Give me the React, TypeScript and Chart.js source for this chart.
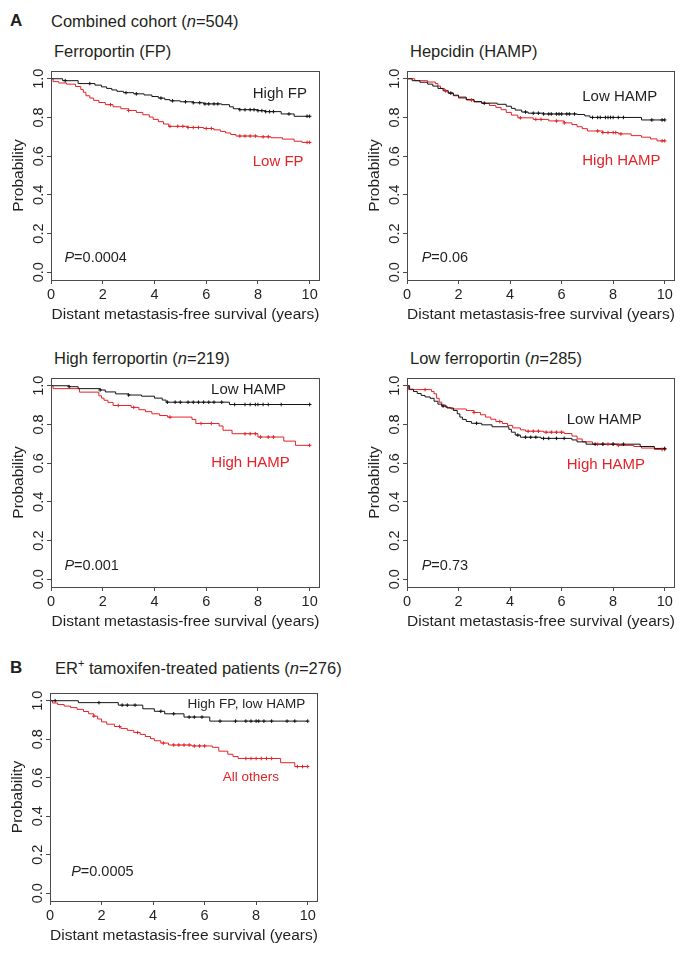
import React, { useEffect, useRef } from "react";
import { Chart, registerables } from "chart.js";
Chart.register(...registerables);

const FONT = '"Liberation Sans", Arial, Helvetica, sans-serif';
const TEXT = "#231f20";
const RED = "#e42228";
const BLK = "#141414";
const AXIS = "#4a4a4a";

const xTickValues = [0, 2, 4, 6, 8, 10];
const yTickValues = [0, 0.2, 0.4, 0.6, 0.8, 1.0];
const xAxisTitle = "Distant metastasis-free survival (years)";
const yAxisTitle = "Probability";

// ---- Panel 1: Ferroportin (FP) ----
const fpHighTimes = [0, 0.45, 1.05, 1.7, 1.95, 2.15, 2.35, 2.55, 2.8, 3.2, 3.6, 3.9, 4.15, 4.4, 4.6, 5.0, 5.5, 5.9, 6.6, 6.9, 7.05, 7.3, 8.0, 8.3, 8.9, 9.4, 10];
const fpHighSurv = [1.0, 0.99, 0.975, 0.967, 0.958, 0.95, 0.942, 0.935, 0.928, 0.922, 0.916, 0.908, 0.9, 0.892, 0.886, 0.881, 0.876, 0.87, 0.866, 0.855, 0.845, 0.84, 0.835, 0.83, 0.818, 0.806, 0.806];
const fpHighCensor = [0.55, 1.5, 2.9, 3.3, 4.25, 4.7, 5.2, 5.5, 5.75, 5.95, 6.1, 6.3, 6.45, 7.3, 7.5, 7.7, 7.85, 8.0, 8.15, 8.3, 8.45, 8.6, 9.2, 9.9, 10.0];
const fpLowTimes = [0, 0.08, 0.3, 0.6, 0.95, 1.15, 1.25, 1.35, 1.5, 1.65, 1.85, 2.1, 2.4, 2.7, 3.0, 3.3, 3.55, 3.8, 3.95, 4.15, 4.35, 4.55, 5.3, 5.9, 6.3, 6.55, 6.75, 6.95, 7.15, 8.0, 8.5, 8.95, 9.4, 9.7, 10];
const fpLowSurv = [1.0, 0.985, 0.978, 0.972, 0.96, 0.945, 0.93, 0.912, 0.9, 0.888, 0.877, 0.866, 0.855, 0.845, 0.836, 0.826, 0.814, 0.802, 0.79, 0.778, 0.766, 0.754, 0.748, 0.743, 0.736, 0.728, 0.72, 0.712, 0.704, 0.7, 0.695, 0.688, 0.677, 0.671, 0.671];
const fpLowCensor = [2.3, 3.0, 4.6, 4.9, 5.1, 5.3, 5.5, 5.7, 6.0, 6.2, 7.3, 7.5, 7.7, 7.9, 8.2, 8.4, 9.9, 10.0];

// ---- Panel 2: Hepcidin (HAMP) ----
const hampLowTimes = [0, 0.2, 0.5, 0.8, 1.0, 1.2, 1.4, 1.6, 1.8, 2.0, 2.3, 2.6, 2.9, 3.5, 3.85, 4.05, 4.2, 4.45, 4.7, 5.3, 6.6, 6.9, 7.1, 9.1, 10];
const hampLowSurv = [1.0, 0.99, 0.982, 0.972, 0.962, 0.95, 0.938, 0.926, 0.915, 0.905, 0.893, 0.882, 0.874, 0.868, 0.858, 0.847, 0.838, 0.828, 0.822, 0.818, 0.815, 0.808, 0.8, 0.787, 0.787];
const hampLowCensor = [1.7, 3.0, 4.6, 4.9, 5.1, 5.3, 5.5, 5.6, 5.8, 5.9, 6.0, 6.2, 6.3, 6.5, 7.2, 7.4, 7.5, 7.7, 7.8, 7.9, 8.0, 8.2, 8.4, 9.5, 9.9, 10.0];
const hampHighTimes = [0, 0.3, 0.8, 1.1, 1.2, 1.3, 1.45, 1.6, 1.8, 2.0, 2.3, 2.6, 2.9, 3.2, 3.45, 3.65, 3.85, 4.05, 4.3, 4.9, 5.5, 6.1, 6.4, 6.6, 6.8, 7.0, 7.6, 8.2, 8.7, 9.1, 9.45, 9.7, 10];
const hampHighSurv = [1.0, 0.99, 0.983, 0.975, 0.962, 0.95, 0.937, 0.925, 0.912, 0.9, 0.89, 0.88, 0.872, 0.862, 0.852, 0.84, 0.826, 0.812, 0.798, 0.79, 0.782, 0.772, 0.763, 0.752, 0.742, 0.73, 0.722, 0.715, 0.706, 0.698, 0.689, 0.679, 0.679];
const hampHighCensor = [1.5, 2.5, 4.4, 5.0, 5.2, 5.8, 6.1, 7.4, 7.6, 7.8, 8.0, 8.1, 8.3, 9.9, 10.0];

// ---- Panel 3: High ferroportin (n=219) ----
const hiFpLowHampTimes = [0, 0.7, 1.05, 1.9, 2.1, 2.5, 3.0, 3.5, 4.0, 4.3, 4.45, 6.9, 10];
const hiFpLowHampSurv = [1.0, 0.995, 0.985, 0.978, 0.968, 0.958, 0.952, 0.946, 0.936, 0.926, 0.915, 0.903, 0.903];
const hiFpLowHampCensor = [0.7, 1.9, 3.0, 4.5, 4.8, 5.0, 5.3, 5.5, 5.7, 5.9, 6.1, 6.3, 6.6, 7.1, 7.5, 7.7, 7.9, 8.0, 8.2, 8.4, 8.9, 10.0];
const hiFpHighHampTimes = [0, 0.08, 1.1, 1.85, 1.95, 2.05, 2.2, 2.4, 3.1, 3.4, 3.65, 3.9, 4.2, 4.5, 5.45, 5.6, 6.5, 6.65, 7.0, 8.0, 9.0, 9.45, 10];
const hiFpHighHampSurv = [1.0, 0.985, 0.967, 0.948, 0.936, 0.925, 0.914, 0.898, 0.888, 0.876, 0.866, 0.855, 0.846, 0.838, 0.826, 0.805, 0.792, 0.77, 0.752, 0.735, 0.714, 0.692, 0.692];
const hiFpHighHampCensor = [2.6, 3.2, 4.6, 5.8, 6.2, 7.5, 7.7, 7.9, 8.1, 8.4, 8.6, 10.0];

// ---- Panel 4: Low ferroportin (n=285) ----
const loFpLowHampTimes = [0, 0.1, 0.25, 0.4, 0.55, 0.7, 0.9, 1.05, 1.2, 1.35, 1.55, 1.8, 1.95, 2.05, 2.15, 2.3, 2.5, 2.9, 3.3, 3.95, 4.05, 4.2, 4.4, 5.2, 6.4, 6.6, 6.95, 9.05, 9.6, 10];
const loFpLowHampSurv = [1.0, 0.982, 0.97, 0.96, 0.95, 0.942, 0.935, 0.92, 0.905, 0.895, 0.885, 0.872, 0.855, 0.838, 0.826, 0.815, 0.806, 0.798, 0.788, 0.775, 0.76, 0.745, 0.734, 0.728, 0.72, 0.71, 0.698, 0.686, 0.676, 0.676];
const loFpLowHampCensor = [1.4, 2.7, 4.3, 4.6, 4.8, 5.0, 5.3, 5.5, 5.8, 6.1, 7.3, 7.6, 8.0, 8.4, 10.0];
const loFpHighHampTimes = [0, 0.06, 0.95, 1.05, 1.15, 1.25, 1.35, 1.5, 1.7, 2.3, 2.6, 2.85, 3.05, 3.25, 3.45, 3.7, 3.9, 4.1, 4.4, 4.6, 5.3, 6.1, 6.4, 6.6, 6.8, 7.2, 8.2, 8.8, 9.1, 9.6, 10];
const loFpHighHampSurv = [1.0, 0.98, 0.97, 0.958, 0.935, 0.915, 0.9, 0.888, 0.88, 0.872, 0.862, 0.85, 0.838, 0.827, 0.815, 0.805, 0.795, 0.782, 0.772, 0.765, 0.76, 0.753, 0.74, 0.725, 0.71, 0.698, 0.692, 0.686, 0.678, 0.671, 0.671];
const loFpHighHampCensor = [0.7, 2.6, 3.6, 4.7, 4.9, 5.1, 5.4, 5.6, 5.8, 6.0, 7.4, 7.6, 7.8, 8.0, 8.2, 9.9, 10.0];

// ---- Panel 5: ER+ tamoxifen-treated (n=276) ----
const tamHiFpLoHampTimes = [0, 1.1, 2.65, 3.6, 4.05, 4.45, 5.2, 6.2, 10];
const tamHiFpLoHampSurv = [1.0, 0.99, 0.977, 0.958, 0.945, 0.932, 0.915, 0.894, 0.894];
const tamHiFpLoHampCensor = [0.2, 1.9, 2.8, 3.0, 3.3, 4.3, 4.8, 5.4, 5.6, 5.9, 6.6, 7.2, 7.6, 7.8, 8.0, 8.1, 8.3, 8.6, 9.2, 9.5, 10.0];
const tamOthersTimes = [0, 0.1, 0.3, 0.55, 0.8, 1.05, 1.3, 1.5, 1.7, 1.85, 2.0, 2.2, 2.5, 2.75, 3.0, 3.25, 3.5, 3.7, 3.9, 4.05, 4.3, 4.6, 5.5, 6.3, 6.55, 6.9, 7.1, 7.3, 8.95, 9.5, 10];
const tamOthersSurv = [1.0, 0.988, 0.98, 0.972, 0.964, 0.955, 0.944, 0.932, 0.92, 0.905, 0.89, 0.878, 0.866, 0.856, 0.846, 0.835, 0.825, 0.814, 0.803, 0.792, 0.78, 0.77, 0.765, 0.758, 0.738, 0.722, 0.71, 0.7, 0.678, 0.658, 0.658];
const tamOthersCensor = [1.7, 2.7, 3.4, 4.4, 4.8, 5.0, 5.2, 5.4, 5.6, 5.8, 6.0, 7.6, 7.8, 8.0, 8.2, 8.4, 8.6, 9.6, 9.8, 10.0];

type Curve = { times: number[]; surv: number[]; censor: number[]; color: string };
type Note = { text: string; x: number; y: number; color: string; size: number };
type PanelSpec = {
  boxLeft: number; boxTop: number; boxW: number; boxH: number;
  curves: Curve[]; notes: Note[]; pValue: string; pX: number; pY: number; pSize: number;
};

function survAt(times: number[], surv: number[], t: number) {
  let v = surv[0];
  for (let i = 0; i < times.length; i++) if (times[i] <= t) v = surv[i];
  return v;
}

const panels: PanelSpec[] = [
  {
    boxLeft: 51, boxTop: 71, boxW: 269, boxH: 209,
    curves: [
      { times: fpHighTimes, surv: fpHighSurv, censor: fpHighCensor, color: BLK },
      { times: fpLowTimes, surv: fpLowSurv, censor: fpLowCensor, color: RED },
    ],
    notes: [
      { text: "High FP", x: 7.8, y: 0.923, color: TEXT, size: 15 },
      { text: "Low FP", x: 7.8, y: 0.571, color: RED, size: 15 },
    ],
    pValue: "=0.0004", pX: 0.52, pY: 0.076, pSize: 14.5,
  },
  {
    boxLeft: 407, boxTop: 71, boxW: 268, boxH: 209,
    curves: [
      { times: hampLowTimes, surv: hampLowSurv, censor: hampLowCensor, color: BLK },
      { times: hampHighTimes, surv: hampHighSurv, censor: hampHighCensor, color: RED },
    ],
    notes: [
      { text: "Low HAMP", x: 6.8, y: 0.907, color: TEXT, size: 15 },
      { text: "High HAMP", x: 6.8, y: 0.577, color: RED, size: 15 },
    ],
    pValue: "=0.06", pX: 0.57, pY: 0.076, pSize: 14.5,
  },
  {
    boxLeft: 51, boxTop: 378, boxW: 269, boxH: 209,
    curves: [
      { times: hiFpLowHampTimes, surv: hiFpLowHampSurv, censor: hiFpLowHampCensor, color: BLK },
      { times: hiFpHighHampTimes, surv: hiFpHighHampSurv, censor: hiFpHighHampCensor, color: RED },
    ],
    notes: [
      { text: "Low HAMP", x: 6.19, y: 0.978, color: TEXT, size: 15 },
      { text: "High HAMP", x: 6.2, y: 0.599, color: RED, size: 15 },
    ],
    pValue: "=0.001", pX: 0.52, pY: 0.069, pSize: 14.5,
  },
  {
    boxLeft: 407, boxTop: 378, boxW: 268, boxH: 209,
    curves: [
      { times: loFpLowHampTimes, surv: loFpLowHampSurv, censor: loFpLowHampCensor, color: BLK },
      { times: loFpHighHampTimes, surv: loFpHighHampSurv, censor: loFpHighHampCensor, color: RED },
    ],
    notes: [
      { text: "Low HAMP", x: 6.2, y: 0.823, color: TEXT, size: 15 },
      { text: "High HAMP", x: 6.2, y: 0.593, color: RED, size: 15 },
    ],
    pValue: "=0.73", pX: 0.57, pY: 0.069, pSize: 14.5,
  },
  {
    boxLeft: 50, boxTop: 693, boxW: 268, boxH: 208,
    curves: [
      { times: tamHiFpLoHampTimes, surv: tamHiFpLoHampSurv, censor: tamHiFpLoHampCensor, color: BLK },
      { times: tamOthersTimes, surv: tamOthersSurv, censor: tamOthersCensor, color: RED },
    ],
    notes: [
      { text: "High FP, low HAMP", x: 5.34, y: 0.984, color: TEXT, size: 13.5 },
      { text: "All others", x: 6.7, y: 0.6, color: RED, size: 13.5 },
    ],
    pValue: "=0.0005", pX: 0.82, pY: 0.112, pSize: 14.5,
  },
];

const Y_AXIS_W = 51;
const PAD_TOP = 10;
const PAD_RIGHT = 14;
const X_AXIS_H = 45;

function KMPanel({ spec }: { spec: PanelSpec }) {
  const ref = useRef<HTMLCanvasElement | null>(null);
  const width = Y_AXIS_W + spec.boxW + PAD_RIGHT;
  const height = PAD_TOP + spec.boxH + X_AXIS_H;

  useEffect(() => {
    if (!ref.current) return;
    const datasets: any[] = [];
    spec.curves.forEach((c) => {
      datasets.push({
        data: c.times.map((t, i) => ({ x: t, y: c.surv[i] })),
        borderColor: c.color,
        borderWidth: 1,
        stepped: "before",
        pointRadius: 0,
        fill: false,
        order: 2,
      });
      datasets.push({
        data: c.censor.map((t) => ({ x: t, y: survAt(c.times, c.surv, t) })),
        showLine: false,
        pointStyle: "cross",
        pointRadius: 1.8,
        pointBorderWidth: 1,
        pointBorderColor: c.color,
        pointBackgroundColor: c.color,
        borderColor: c.color,
        order: 1,
      });
    });

    const deco = {
      id: "deco",
      afterDatasetsDraw(chart: any) {
        const { ctx, chartArea } = chart;
        const xs = chart.scales.x;
        const ys = chart.scales.y;
        ctx.save();
        // box
        ctx.strokeStyle = AXIS;
        ctx.lineWidth = 1;
        ctx.strokeRect(
          Math.round(chartArea.left) + 0.5,
          Math.round(chartArea.top) + 0.5,
          Math.round(chartArea.right - chartArea.left) - 1,
          Math.round(chartArea.bottom - chartArea.top)
        );
        // y tick labels (rotated)
        ctx.fillStyle = TEXT;
        ctx.font = `14.5px ${FONT}`;
        ctx.textAlign = "center";
        ctx.textBaseline = "middle";
        yTickValues.forEach((v) => {
          const py = ys.getPixelForValue(v);
          ctx.save();
          ctx.translate(chartArea.left - 12, py);
          ctx.rotate(-Math.PI / 2);
          ctx.fillText(v.toFixed(1), 0, 0);
          ctx.restore();
        });
        // notes
        ctx.textAlign = "left";
        spec.notes.forEach((n) => {
          ctx.fillStyle = n.color;
          ctx.font = `${n.size}px ${FONT}`;
          ctx.fillText(n.text, xs.getPixelForValue(n.x), ys.getPixelForValue(n.y));
        });
        // p value
        const px = xs.getPixelForValue(spec.pX);
        const py = ys.getPixelForValue(spec.pY);
        ctx.fillStyle = TEXT;
        ctx.font = `italic ${spec.pSize}px ${FONT}`;
        ctx.fillText("P", px, py);
        const w = ctx.measureText("P").width;
        ctx.font = `${spec.pSize}px ${FONT}`;
        ctx.fillText(spec.pValue, px + w, py);
        ctx.restore();
      },
    };

    const chart = new Chart(ref.current, {
      type: "line",
      data: { datasets },
      options: {
        responsive: false,
        animation: false,
        devicePixelRatio: 1,
        events: [],
        layout: { padding: { left: 0, top: PAD_TOP, right: PAD_RIGHT, bottom: 0 } },
        plugins: { legend: { display: false }, tooltip: { enabled: false }, title: { display: false } },
        scales: {
          x: {
            type: "linear",
            position: "bottom",
            min: 0,
            max: 10.4,
            afterBuildTicks: (s: any) => {
              s.ticks = xTickValues.map((v) => ({ value: v }));
            },
            afterFit: (s: any) => {
              s.height = X_AXIS_H;
            },
            ticks: {
              color: TEXT,
              font: { family: FONT, size: 14.5, lineHeight: 1 },
              padding: 4,
              maxRotation: 0,
              minRotation: 0,
              callback: (v: any) => String(v),
            },
            grid: {
              display: true,
              drawOnChartArea: false,
              drawTicks: true,
              tickLength: 4,
              color: AXIS,
              lineWidth: 1,
            },
            border: { display: false },
            title: {
              display: true,
              text: xAxisTitle,
              color: TEXT,
              font: { family: FONT, size: 15.5, lineHeight: 1 },
              padding: { top: 0, bottom: 3 },
            },
          },
          y: {
            type: "linear",
            position: "left",
            min: -0.04,
            max: 1.04,
            afterBuildTicks: (s: any) => {
              s.ticks = yTickValues.map((v) => ({ value: v }));
            },
            afterFit: (s: any) => {
              s.width = Y_AXIS_W;
            },
            ticks: { display: false },
            grid: {
              display: true,
              drawOnChartArea: false,
              drawTicks: true,
              tickLength: 4,
              color: AXIS,
              lineWidth: 1,
            },
            border: { display: false },
            title: {
              display: true,
              text: yAxisTitle,
              color: TEXT,
              font: { family: FONT, size: 15.5, lineHeight: 1 },
              padding: { top: 11, bottom: 0 },
            },
          },
        },
      } as any,
      plugins: [deco],
    });
    return () => chart.destroy();
  }, [spec]);

  return (
    <canvas
      ref={ref}
      width={width}
      height={height}
      style={{
        position: "absolute",
        left: spec.boxLeft - Y_AXIS_W,
        top: spec.boxTop - PAD_TOP,
        width,
        height,
      }}
    />
  );
}

const headStyle: React.CSSProperties = {
  position: "absolute",
  whiteSpace: "nowrap",
  fontSize: 16.5,
  lineHeight: "20px",
  color: TEXT,
  fontFamily: FONT,
};

export default function App() {
  return (
    <div
      style={{
        position: "absolute",
        left: 0,
        top: 0,
        width: 689,
        height: 954,
        background: "#ffffff",
        fontFamily: FONT,
        overflow: "hidden",
      }}
    >
      {panels.map((p, i) => (
        <KMPanel key={i} spec={p} />
      ))}
      <div style={{ ...headStyle, left: 10, top: 11, fontWeight: "bold", fontSize: 17 }}>A</div>
      <div style={{ ...headStyle, left: 51, top: 11 }}>
        Combined cohort (<i>n</i>=504)
      </div>
      <div style={{ ...headStyle, left: 54, top: 41 }}>Ferroportin (FP)</div>
      <div style={{ ...headStyle, left: 410, top: 41 }}>Hepcidin (HAMP)</div>
      <div style={{ ...headStyle, left: 54, top: 348 }}>
        High ferroportin (<i>n</i>=219)
      </div>
      <div style={{ ...headStyle, left: 410, top: 348 }}>
        Low ferroportin (<i>n</i>=285)
      </div>
      <div style={{ ...headStyle, left: 10, top: 658, fontWeight: "bold", fontSize: 17 }}>B</div>
      <div style={{ ...headStyle, left: 55, top: 658 }}>
        ER
        <span style={{ fontSize: 11, position: "relative", top: -7 }}>+</span> tamoxifen-treated patients (
        <i>n</i>=276)
      </div>
    </div>
  );
}
